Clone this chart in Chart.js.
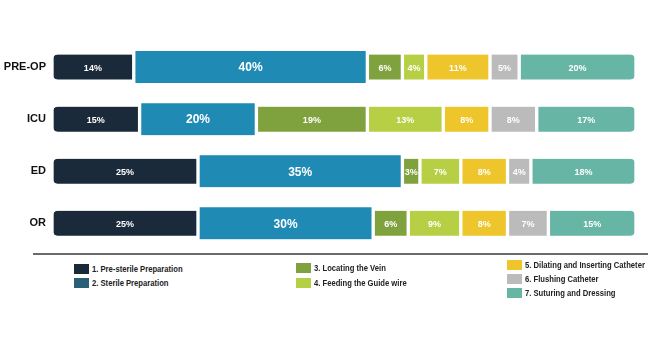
<!DOCTYPE html>
<html>
<head>
<meta charset="utf-8">
<script src="https://cdn.jsdelivr.net/npm/chart.js@4.4.1/dist/chart.umd.min.js"></script>
<style>
  body { margin: 0; background: #fff; font-family: "Liberation Sans", Arial, sans-serif; }
  #wrap { position: absolute; left: 0; top: 0; width: 648px; height: 262px; }
  #rule { position: absolute; left: 33px; top: 253px; width: 615px; height: 0; border-top: 2px solid #6a6a6a; }
  .item { position: absolute; font-size: 8.5px; font-weight: bold; color: #222; white-space: nowrap;
          font-family: "Liberation Sans", Arial, sans-serif; line-height: 10px; }
  .item span { display: inline-block; width: 15px; height: 10px; vertical-align: middle; margin-right: 3px; }
  .item i { font-style: normal; display: inline-block; vertical-align: middle; transform: scaleX(0.9); transform-origin: left center; }
</style>
</head>
<body>
<div id="wrap"><canvas id="myChart"></canvas></div>
<div id="rule"></div>
<div id="legend"></div>
<script>
// categories and the share of each step (percent)
const categories = ['PRE-OP', 'ICU', 'ED', 'OR'];
const preSterile = [14, 15, 25, 25];
const sterile = [40, 20, 35, 30];
const locating = [6, 19, 3, 6];
const feeding = [4, 13, 7, 9];
const dilating = [11, 8, 8, 8];
const flushing = [5, 8, 4, 7];
const suturing = [20, 17, 18, 15];

const stepNames = [
    '1. Pre-sterile Preparation',
    '2. Sterile Preparation',
    '3. Locating the Vein',
    '4. Feeding the Guide wire',
    '5. Dilating and Inserting Catheter',
    '6. Flushing Catheter',
    '7. Suturing and Dressing'
];
const barColors = ['#1b2a3b', '#1f8ab4', '#7fa23e', '#b6cf45', '#eec52a', '#bbbbbb', '#66b5a5'];
const legendColors = ['#1b2a3b', '#2a5f78', '#7fa23e', '#b6cf45', '#eec52a', '#bbbbbb', '#66b5a5'];

const seriesList = [preSterile, sterile, locating, feeding, dilating, flushing, suturing];

const datasets = seriesList.map((values, i) => {
    let radius = 0;
    if (i === 0) radius = { topLeft: 6, bottomLeft: 6, topRight: 0, bottomRight: 0 };
    if (i === 6) radius = { topLeft: 0, bottomLeft: 0, topRight: 6, bottomRight: 6 };
    return {
        label: stepNames[i],
        data: values,
        backgroundColor: barColors[i],
        borderColor: '#ffffff',
        borderWidth: { left: 2, right: 2, top: 0, bottom: 0 },
        borderSkipped: false,
        borderRadius: radius,
        barThickness: i === 1 ? 32 : 25
    };
});

// write the percent inside every segment
const segmentLabels = {
    id: 'segmentLabels',
    afterDatasetsDraw(chart) {
        const ctx = chart.ctx;
        ctx.save();
        ctx.fillStyle = '#ffffff';
        ctx.textAlign = 'center';
        ctx.textBaseline = 'middle';
        chart.data.datasets.forEach((ds, i) => {
            const meta = chart.getDatasetMeta(i);
            ctx.font = i === 1 ? 'bold 12px "Liberation Sans", Arial' : 'bold 9px "Liberation Sans", Arial';
            meta.data.forEach((bar, j) => {
                const p = bar.getCenterPoint();
                ctx.fillText(ds.data[j] + '%', p.x, p.y + 1);
            });
        });
        ctx.restore();
    }
};

const ctx = document.getElementById('myChart').getContext('2d');
const myChart = new Chart(ctx, {
    type: 'bar',
    data: { labels: categories, datasets: datasets },
    plugins: [segmentLabels],
    options: {
        indexAxis: 'y',
        responsive: true,
        maintainAspectRatio: false,
        animation: false,
        layout: { padding: { top: 41, bottom: 3, left: 0, right: 12 } },
        plugins: { legend: { display: false }, tooltip: { enabled: false } },
        scales: {
            x: { stacked: true, min: 0, max: 100, display: false },
            y: {
                stacked: true,
                grid: { display: false, drawTicks: false },
                border: { display: false },
                ticks: { color: '#111', padding: 6, font: { family: '"Liberation Sans", Arial', size: 11, weight: 'bold' } },
                afterFit(scale) { scale.width = 52; }
            }
        }
    }
});

// legend in three columns under the rule
const legendSpots = [[74, 263], [74, 277], [296, 262], [296, 277], [507, 259], [507, 273], [507, 287]];
const legend = document.getElementById('legend');
stepNames.forEach((name, i) => {
    const el = document.createElement('div');
    el.className = 'item';
    el.style.left = legendSpots[i][0] + 'px';
    el.style.top = legendSpots[i][1] + 'px';
    el.innerHTML = '<span style="background:' + legendColors[i] + '"></span><i>' + name + '</i>';
    legend.appendChild(el);
});
</script>
</body>
</html>
